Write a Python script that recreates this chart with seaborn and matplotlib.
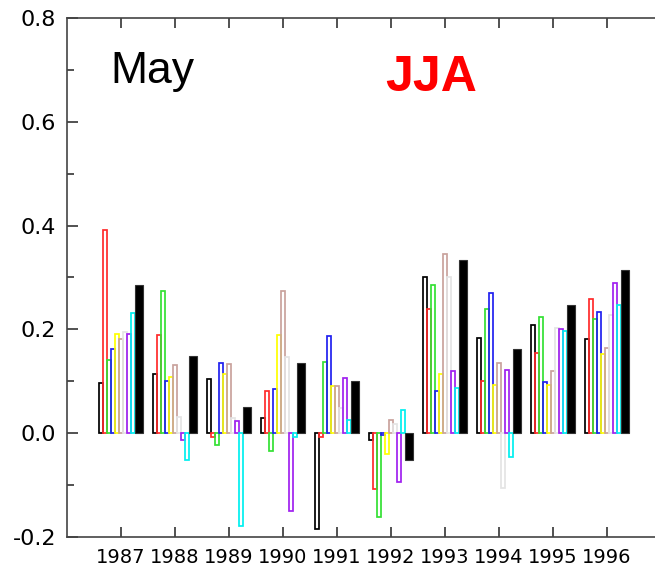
import numpy as np
import pandas as pd
import matplotlib
matplotlib.use('Agg')
import matplotlib.pyplot as plt
import seaborn as sns

# Data
years = [1987, 1988, 1989, 1990, 1991, 1992, 1993, 1994, 1995, 1996]
series_names = ['s1', 's2', 's3', 's4', 's5', 's6', 's7', 's8', 's9']
series_colors = ['#000000', '#ff2a2a', '#33e033', '#2020f0', '#ffff00',
                 '#c9a29c', '#e4e4e4', '#a020f0', '#00f0f0']
s1 = [0.096, 0.114, 0.104, 0.029, -0.184, -0.014, 0.300, 0.184, 0.208, 0.181]
s2 = [0.391, 0.189, -0.008, 0.082, -0.008, -0.107, 0.239, 0.101, 0.155, 0.258]
s3 = [0.141, 0.274, -0.022, -0.035, 0.138, -0.162, 0.285, 0.239, 0.223, 0.221]
s4 = [0.162, 0.101, 0.135, 0.085, 0.188, -0.003, 0.082, 0.271, 0.098, 0.234]
s5 = [0.191, 0.108, 0.114, 0.189, 0.090, -0.040, 0.114, 0.093, 0.093, 0.152]
s6 = [0.181, 0.131, 0.133, 0.274, 0.090, 0.026, 0.346, 0.135, 0.119, 0.165]
s7 = [0.195, 0.031, 0.029, 0.146, 0.048, 0.018, 0.300, -0.106, 0.202, 0.228]
s8 = [0.191, -0.013, 0.024, -0.149, 0.106, -0.094, 0.119, 0.122, 0.200, 0.290]
s9 = [0.231, -0.051, -0.179, -0.008, 0.026, 0.045, 0.087, -0.046, 0.197, 0.247]
mean_vals = [0.285, 0.149, 0.051, 0.136, 0.101, -0.051, 0.333, 0.162, 0.247, 0.314]

all_series = [s1, s2, s3, s4, s5, s6, s7, s8, s9]

# long-form table for the outlined bars
rows = []
for name, vals in zip(series_names, all_series):
    for yr, v in zip(years, vals):
        rows.append({'x': yr - 0.074, 'value': v, 'series': name})
df = pd.DataFrame(rows)
df_mean = pd.DataFrame({'x': np.array(years) + 0.333, 'value': mean_vals})

sns.set_style('ticks')
plt.rcParams['font.family'] = ['DejaVu Sans']

fig = plt.figure(figsize=(6.55, 5.66), dpi=100)
ax = fig.add_axes([67 / 655, 1 - 537 / 566, 594 / 655, (537 - 18) / 566])

sns.barplot(data=df, x='x', y='value', hue='series', hue_order=series_names,
            palette=series_colors, fill=False, saturation=1, width=0.667,
            native_scale=True, errorbar=None, legend=False, ax=ax)
# outline thickness like the reference
for p in ax.patches:
    p.set_linewidth(1.25)

sns.barplot(data=df_mean, x='x', y='value', color='black', saturation=1,
            width=0.148, native_scale=True, errorbar=None, legend=False,
            edgecolor='#333333', linewidth=0.8, ax=ax)

ax.set_xlim(1986, 1997)
ax.set_ylim(-0.2, 0.8)
ax.set_xticks(years)
ax.set_xticklabels([str(y) for y in years])
ax.set_yticks([-0.2, 0.0, 0.2, 0.4, 0.6, 0.8])
ax.set_yticklabels(['-0.2', '0.0', '0.2', '0.4', '0.6', '0.8'])
ax.set_yticks(np.arange(-0.1, 0.8, 0.2), minor=True)
ax.set_xlabel('')
ax.set_ylabel('')

for side in ['top', 'bottom', 'left']:
    ax.spines[side].set_visible(True)
    ax.spines[side].set_color('#444444')
    ax.spines[side].set_linewidth(1.2)
ax.spines['right'].set_visible(False)

ax.tick_params(axis='x', direction='in', top=True, bottom=True, length=7,
               width=1.2, labelsize=14, pad=8, colors='#333333',
               labelcolor='black')
ax.tick_params(axis='y', which='major', direction='in', left=True, right=False,
               length=8, width=1.2, labelsize=16, pad=8, colors='#333333',
               labelcolor='black')
ax.tick_params(axis='y', which='minor', direction='in', length=5, width=1.2,
               colors='#333333')

fig.text(110 / 655, 1 - 83 / 566, 'May', fontsize=32, color='black',
         family='Liberation Sans', va='baseline', ha='left')
fig.text(385 / 655, 1 - 91 / 566, 'JJA', fontsize=36, color='#ff0000',
         family='Liberation Sans', fontweight='bold', va='baseline', ha='left')

fig.savefig('out.png', dpi=100)
